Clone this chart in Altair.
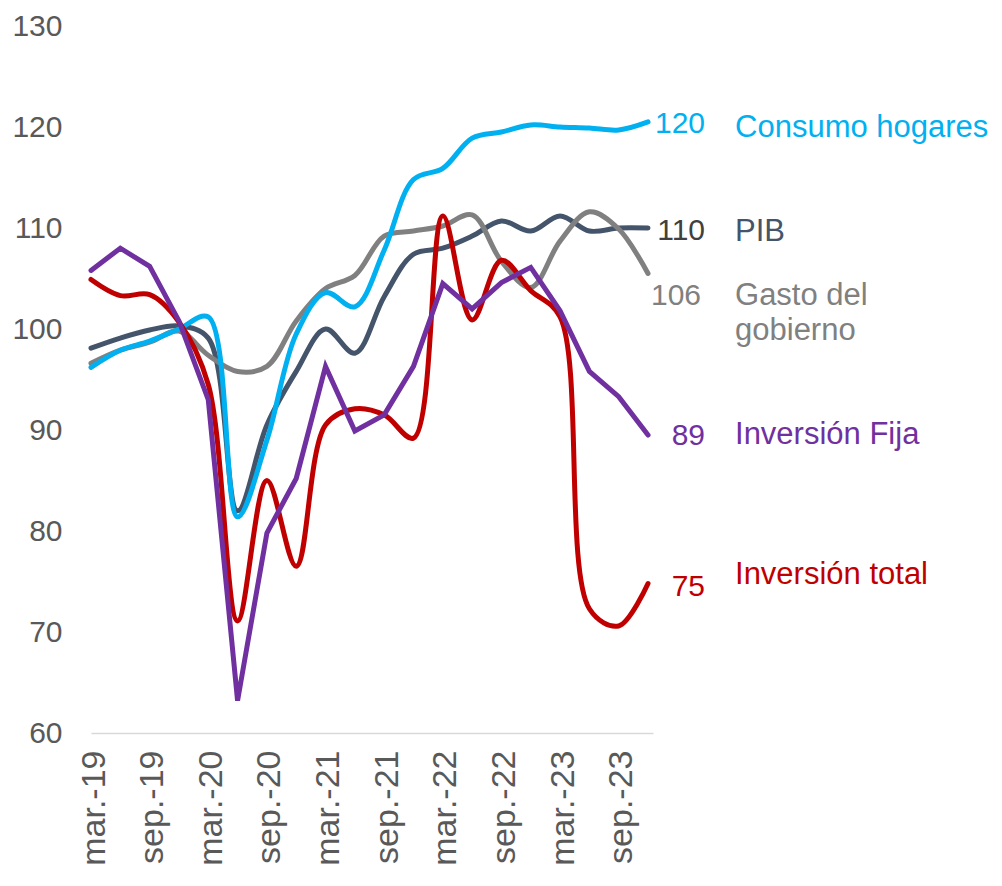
import json
import altair as alt
import pandas as pd

# ---------------- data ----------------
quarters = ["mar.-19", "jun.-19", "sep.-19", "dic.-19",
            "mar.-20", "jun.-20", "sep.-20", "dic.-20",
            "mar.-21", "jun.-21", "sep.-21", "dic.-21",
            "mar.-22", "jun.-22", "sep.-22", "dic.-22",
            "mar.-23", "jun.-23", "sep.-23", "dic.-23"]

consumo_hogares = [96.2, 97.9, 98.8, 100.0, 101.2, 81.4, 89.0, 99.5, 103.6, 102.2,
                   107.8, 114.8, 115.9, 118.9, 119.5, 120.2, 120.0, 119.9, 119.7, 120.5]
pib = [98.1, 99.1, 99.9, 100.3, 99.1, 82.0, 90.5, 95.8, 100.0, 97.6,
       103.2, 107.4, 108.0, 109.2, 110.7, 109.7, 111.2, 109.7, 110.0, 110.0]
gasto_gobierno = [96.6, 97.9, 98.7, 99.8, 97.4, 95.8, 96.3, 100.8, 104.0, 105.3,
                  109.2, 109.7, 110.2, 111.3, 106.7, 104.1, 108.7, 111.6, 109.9, 105.5]
inversion_fija = [105.8, 108.0, 106.2, 100.8, 93.0, 63.2, 79.8, 85.2, 96.3, 89.9,
                  91.5, 96.3, 104.5, 102.0, 104.6, 106.1, 101.8, 95.8, 93.3, 89.5]
inversion_total = [104.9, 103.3, 103.4, 100.7, 94.5, 71.1, 85.0, 76.5, 90.5, 92.1,
                   91.5, 89.2, 111.2, 100.9, 106.8, 103.8, 101.2, 72.3, 70.6, 74.8]

series_names = ["PIB", "Gasto del gobierno", "Consumo hogares", "Inversión total", "Inversión Fija"]
series_values = [pib, gasto_gobierno, consumo_hogares, inversion_total, inversion_fija]
end_labels = ["110", "106", "120", "75", "89"]
name_lines = [["PIB"], ["Gasto del", "gobierno"], ["Consumo hogares"], ["Inversión total"], ["Inversión Fija"]]

# ---------------- styles ----------------
colors = {"PIB": "#44546A", "Gasto del gobierno": "#808080", "Consumo hogares": "#00B0F0",
          "Inversión total": "#C00000", "Inversión Fija": "#7030A0"}
value_colors = {"PIB": "#404040", "Gasto del gobierno": "#808080", "Consumo hogares": "#00B0F0",
                "Inversión total": "#C00000", "Inversión Fija": "#7030A0"}
interp = {"PIB": "catmull-rom", "Gasto del gobierno": "catmull-rom", "Consumo hogares": "catmull-rom",
          "Inversión total": "catmull-rom", "Inversión Fija": "linear"}
# pixel nudges for end labels: (value dx, value dy, name dy first line)
nudges = {"PIB": (57, 3, 4), "Gasto del gobierno": (53, 23, 23), "Consumo hogares": (57, 2, 6),
          "Inversión total": (57, 3, -9), "Inversión Fija": (57, 1, 0)}
NAME_DX = 87
LINE_GAP = 35
FONT = "Liberation Sans"

rows = []
for name, vals in zip(series_names, series_values):
    for i, v in enumerate(vals):
        rows.append({"serie": name, "i": i, "v": v})
df = pd.DataFrame(rows)

x_enc = alt.X("i:Q",
              scale=alt.Scale(domain=[0, 19.17], nice=False, zero=False),
              axis=alt.Axis(values=list(range(0, 20, 2)),
                            labelExpr=json.dumps(quarters) + "[datum.value]",
                            labelAngle=270, labelAlign="right", labelBaseline="middle",
                            labelOffset=3, labelPadding=17, labelFontSize=34,
                            labelColor="#595959", labelFont=FONT, labelFlush=False,
                            labelOverlap=False, ticks=False, grid=False,
                            domainColor="#D9D9D9", domainWidth=1.5, title=None))
y_enc = alt.Y("v:Q",
              scale=alt.Scale(domain=[60, 130], nice=False, zero=False),
              axis=alt.Axis(values=list(range(60, 131, 10)), domain=False, ticks=False,
                            grid=False, labelPadding=29, labelFontSize=30,
                            labelColor="#595959", labelFont=FONT, labelFlush=False,
                            title=None))

base = alt.Chart(df)
layers = []
for name, lab, lines in zip(series_names, end_labels, name_lines):
    sub = base.transform_filter(alt.datum.serie == name)
    layers.append(sub.mark_line(interpolate=interp[name], color=colors[name], strokeWidth=5,
                                strokeCap="round",
                                strokeJoin="miter" if interp[name] == "linear" else "round")
                  .encode(x=x_enc, y=y_enc))
    last = sub.transform_filter(alt.datum.i == 19)
    vdx, vdy, ndy = nudges[name]
    layers.append(last.mark_text(text=lab, align="right", baseline="middle", dx=vdx, dy=vdy,
                                 fontSize=30, font=FONT, color=value_colors[name])
                  .encode(x="i:Q", y="v:Q"))
    for k, line in enumerate(lines):
        layers.append(last.mark_text(text=line, align="left", baseline="middle", dx=NAME_DX,
                                     dy=ndy + k * LINE_GAP, fontSize=31, font=FONT,
                                     color=colors[name])
                      .encode(x="i:Q", y="v:Q"))

chart = alt.layer(*layers).properties(
    width=562, height=707,
    padding={"left": 83, "top": 18, "right": 340, "bottom": 140},
    autosize="none",
    background="white",
).configure_view(strokeWidth=0, stroke="transparent")

chart.save("out.html", embed_options={"renderer": "svg", "actions": False})
